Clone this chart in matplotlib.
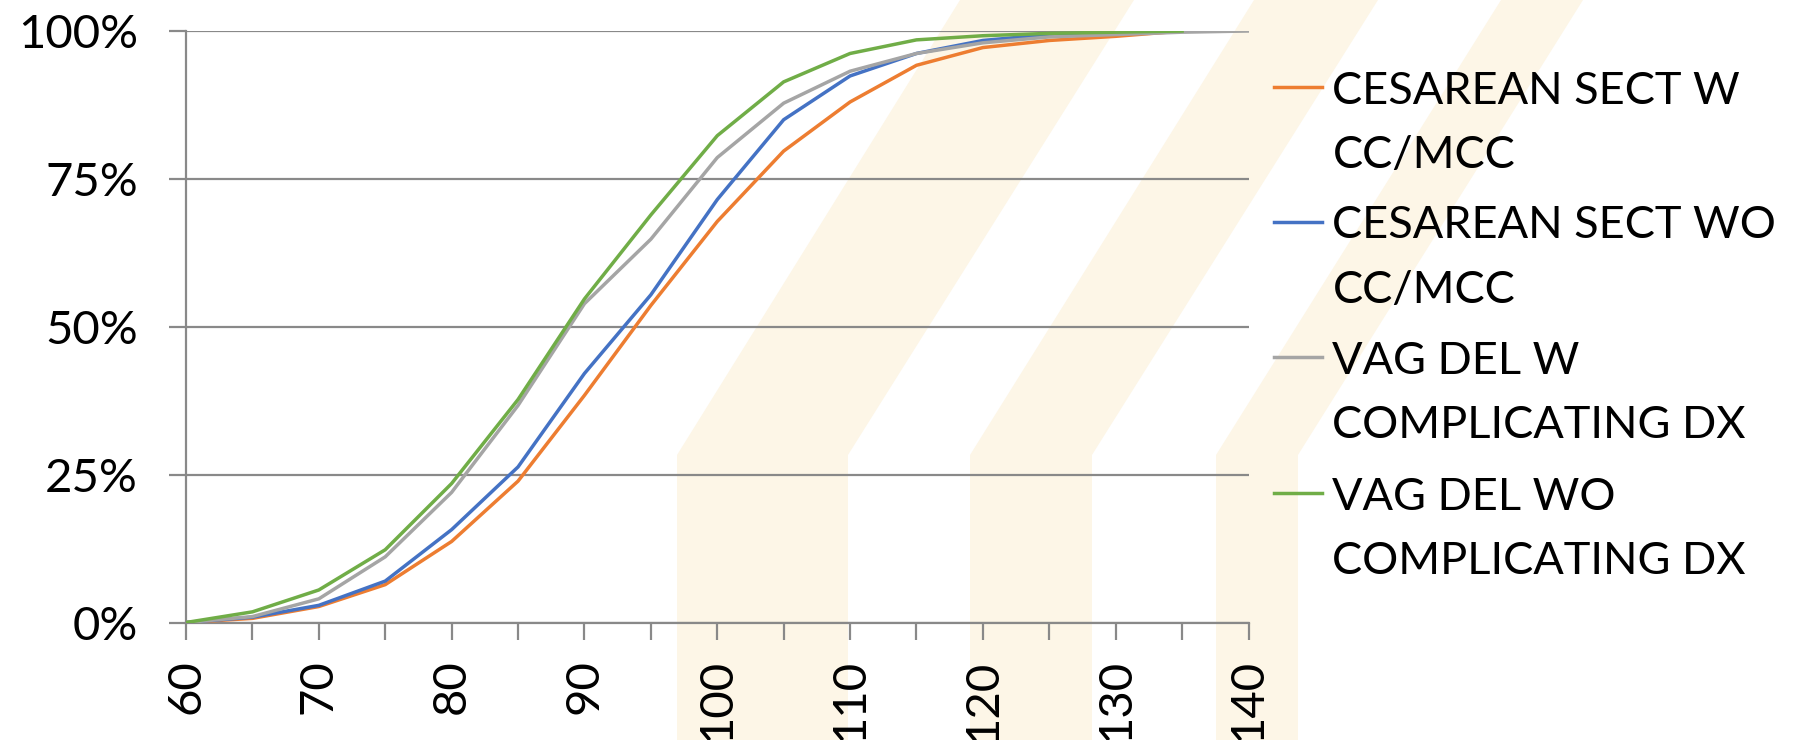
import numpy as np
import matplotlib
matplotlib.use('Agg')
import matplotlib.pyplot as plt
from matplotlib.patches import Polygon
from matplotlib.lines import Line2D
from matplotlib.ticker import PercentFormatter, MultipleLocator

plt.rcParams['font.family'] = ['Lato', 'DejaVu Sans']

# cumulative share of cases by value
x_vals = list(range(60, 145, 5))
ces_w = [0, 0.7, 2.7, 6.4, 13.7, 23.9, 38.4, 53.6, 67.8, 79.7, 88.0, 94.2, 97.2, 98.4, 99.1, 100]
ces_wo = [0, 0.9, 2.9, 7.0, 15.7, 26.3, 42.1, 55.4, 71.5, 85.0, 92.4, 96.2, 98.4, 99.4, 99.8, 100]
vag_w = [0, 1.0, 4.0, 11.1, 22.0, 36.7, 53.9, 64.8, 78.6, 87.8, 93.2, 96.2, 98.0, 99.0, 99.4, 99.8, 100]
vag_wo = [0, 1.8, 5.5, 12.3, 23.5, 37.7, 54.7, 68.9, 82.3, 91.4, 96.2, 98.5, 99.2, 99.6, 99.8, 100]
x_labels = list(range(60, 150, 10))

series = [
    (['CESAREAN SECT W', 'CC/MCC'], ces_w, '#ED7D31'),
    (['CESAREAN SECT WO', 'CC/MCC'], ces_wo, '#4472C4'),
    (['VAG DEL W', 'COMPLICATING DX'], vag_w, '#A5A5A5'),
    (['VAG DEL WO', 'COMPLICATING DX'], vag_wo, '#70AD47'),
]

W, H = 1796, 740
fig = plt.figure(figsize=(W / 100, H / 100), dpi=100)

def fxy(px, py):
    # pixel (from top-left) -> figure fraction
    return (px / W, 1 - py / H)

# faint watermark bands behind the chart
bands = [
    [(677, 740), (677, 455), (960, 0), (1134, 0), (848, 455), (848, 740)],
    [(970, 740), (970, 455), (1254, 0), (1378, 0), (1092, 455), (1092, 740)],
    [(1216, 740), (1216, 455), (1501, 0), (1583, 0), (1298, 455), (1298, 740)],
]
for b in bands:
    poly = Polygon([fxy(*p) for p in b], closed=True, transform=fig.transFigure,
                   facecolor='#FDF6E7', edgecolor='none', zorder=0)
    fig.add_artist(poly)

l, r = 186 / W, 1248.5 / W
t, btm = 1 - 31 / H, 1 - 622.5 / H
ax = fig.add_axes([l, btm, r - l, t - btm])
ax.patch.set_alpha(0)

gray = '#898989'
for labels, vals, col in series:
    ax.plot(x_vals[:len(vals)], vals, color=col, lw=2.5, solid_joinstyle='round', zorder=3)

ax.set_xlim(60, 140)
ax.set_ylim(0, 100)
ax.set_xticks(x_labels)
ax.xaxis.set_minor_locator(MultipleLocator(5))
ax.set_yticks([0, 25, 50, 75, 100])
ax.yaxis.set_major_formatter(PercentFormatter(decimals=0))
ax.grid(axis='y', color=gray, lw=1.6, zorder=1)
ax.set_axisbelow(True)
for s in ['top', 'right']:
    ax.spines[s].set_visible(False)
for s in ['left', 'bottom']:
    ax.spines[s].set_color(gray)
    ax.spines[s].set_linewidth(1.6)

ax.tick_params(axis='both', which='both', direction='out', length=12.5, width=1.6, color=gray,
               labelsize=34, labelcolor='black')
ax.tick_params(axis='y', pad=22)
ax.tick_params(axis='x', pad=14, labelrotation=90)

# legend, first line aligned with the handle
y_first = [87, 222, 357, 493]
for (labels, vals, col), yy in zip(series, y_first):
    x0, y0 = fxy(1273.6, yy)
    x1, _ = fxy(1322, yy)
    fig.add_artist(Line2D([x0, x1], [y0, y0], color=col, lw=2.5, transform=fig.transFigure))
    for k, txt in enumerate(labels):
        tx, ty = fxy(1332.5, yy + k * 64)
        fig.text(tx, ty, txt, fontsize=32.5, va='center_baseline', ha='left')

fig.savefig('out.png', dpi=100)
